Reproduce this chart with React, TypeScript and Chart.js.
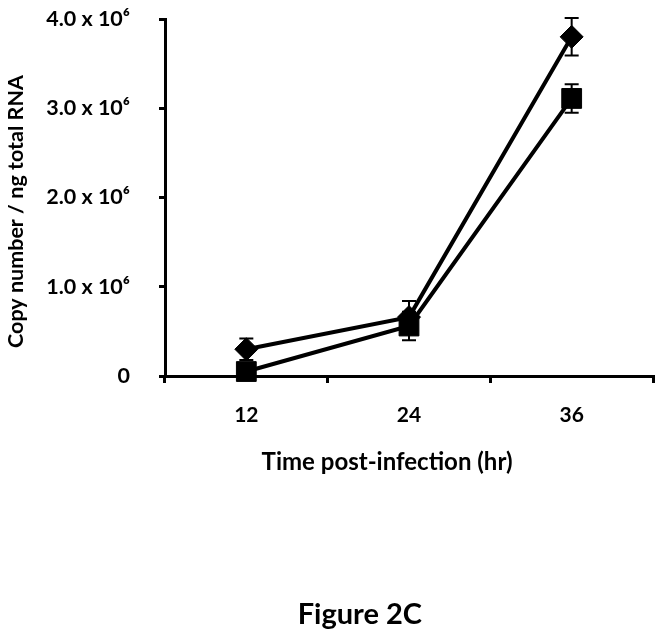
import React, { useEffect, useRef } from "react";
import { Chart, registerables } from "chart.js";

Chart.register(...registerables);

const categories = ["12", "24", "36"];
const seriesDiamond = [0.3e6, 0.66e6, 3.8e6];
const errDiamond = [0.12e6, 0.18e6, 0.21e6];
const seriesSquare = [0.05e6, 0.56e6, 3.11e6];
const errSquare = [0.03e6, 0.16e6, 0.16e6];
const yTickLabels = ["0", "1.0 x 10⁶", "2.0 x 10⁶", "3.0 x 10⁶", "4.0 x 10⁶"];
const yTitle = "Copy number / ng total RNA";
const xTitle = "Time post-infection (hr)";
const caption = "Figure 2C";

const FONT = "Lato, 'Open Sans', sans-serif";

const errorBarPlugin = {
  id: "errorBars",
  afterDatasetsDraw(chart: any) {
    const ctx = chart.ctx;
    const yScale = chart.scales.y;
    const errs = [errDiamond, errSquare];
    ctx.save();
    ctx.strokeStyle = "#000";
    ctx.lineWidth = 2;
    chart.data.datasets.forEach((ds: any, di: number) => {
      const meta = chart.getDatasetMeta(di);
      meta.data.forEach((pt: any, i: number) => {
        const v = ds.data[i];
        const e = errs[di][i];
        const x = pt.x;
        const yTop = yScale.getPixelForValue(v + e);
        const yBot = yScale.getPixelForValue(v - e);
        const cap = 7;
        ctx.beginPath();
        ctx.moveTo(x, yTop);
        ctx.lineTo(x, yBot);
        ctx.moveTo(x - cap, yTop);
        ctx.lineTo(x + cap, yTop);
        ctx.moveTo(x - cap, yBot);
        ctx.lineTo(x + cap, yBot);
        ctx.stroke();
      });
    });
    ctx.restore();
  },
};

const textPlugin = {
  id: "extraText",
  afterDraw(chart: any) {
    const ctx = chart.ctx;
    const ca = chart.chartArea;
    ctx.save();
    ctx.fillStyle = "#000";
    ctx.textAlign = "center";
    ctx.textBaseline = "middle";
    ctx.font = `bold 24px ${FONT}`;
    ctx.fillText(xTitle, ca.left + (ca.right - ca.left) * 0.455, ca.bottom + 86);
    ctx.font = `bold 29px ${FONT}`;
    ctx.fillText(caption, chart.width * 0.543, ca.bottom + 239);
    // y-axis title
    ctx.translate(15, (ca.top + ca.bottom) / 2 + 14);
    ctx.rotate(-Math.PI / 2);
    ctx.textBaseline = "alphabetic";
    ctx.font = `bold 21.5px ${FONT}`;
    ctx.fillText(yTitle, 0, 0);
    ctx.restore();
  },
};

export default function App() {
  const ref = useRef<HTMLCanvasElement | null>(null);
  useEffect(() => {
    if (!ref.current) return;
    const chart = new Chart(ref.current, {
      type: "line",
      data: {
        labels: categories,
        datasets: [
          {
            data: seriesDiamond,
            borderColor: "#000",
            backgroundColor: "#000",
            borderWidth: 4,
            pointStyle: "rectRot",
            pointRadius: 11.5,
            pointBorderWidth: 1,
            pointBackgroundColor: "#000",
            pointBorderColor: "#000",
            tension: 0,
            clip: false,
          },
          {
            data: seriesSquare,
            borderColor: "#000",
            backgroundColor: "#000",
            borderWidth: 4,
            pointStyle: "rect",
            pointRadius: 14,
            pointBorderWidth: 1,
            pointBackgroundColor: "#000",
            pointBorderColor: "#000",
            tension: 0,
            clip: false,
          },
        ],
      },
      options: {
        animation: false,
        responsive: true,
        maintainAspectRatio: false,
        layout: { autoPadding: false, padding: { top: 11, right: 3, left: 0, bottom: 0 } },
        plugins: {
          legend: { display: false },
          tooltip: { enabled: false },
        },
        scales: {
          x: {
            type: "category",
            offset: true,
            grid: {
              display: true,
              offset: true,
              drawOnChartArea: false,
              drawTicks: true,
              tickLength: 7,
              color: "#000",
              lineWidth: 3,
            },
            border: { display: true, color: "#000", width: 3 },
            ticks: {
              color: "#000",
              padding: 20,
              font: { family: FONT, size: 21, weight: "bold" },
            },
            afterFit(scale: any) {
              scale.height = 256;
              scale.paddingLeft = 0;
              scale.paddingRight = 0;
            },
          },
          y: {
            min: 0,
            max: 4e6,
            grid: {
              display: true,
              drawOnChartArea: false,
              drawTicks: true,
              tickLength: 6,
              color: "#000",
              lineWidth: 3,
            },
            border: { display: true, color: "#000", width: 3 },
            ticks: {
              stepSize: 1e6,
              color: "#000",
              padding: 29,
              font: { family: FONT, size: 21.5, weight: "bold" },
              callback: (_v: any, i: number) => yTickLabels[i],
            },
            title: { display: false },
            afterFit(scale: any) {
              scale.width = 157;
              scale.paddingTop = 0;
              scale.paddingBottom = 0;
            },
          },
        },
      },
      plugins: [errorBarPlugin, textPlugin],
    });
    return () => chart.destroy();
  }, []);
  return (
    <div style={{ width: 648, height: 624, position: "relative" }}>
      <canvas ref={ref} />
    </div>
  );
}
